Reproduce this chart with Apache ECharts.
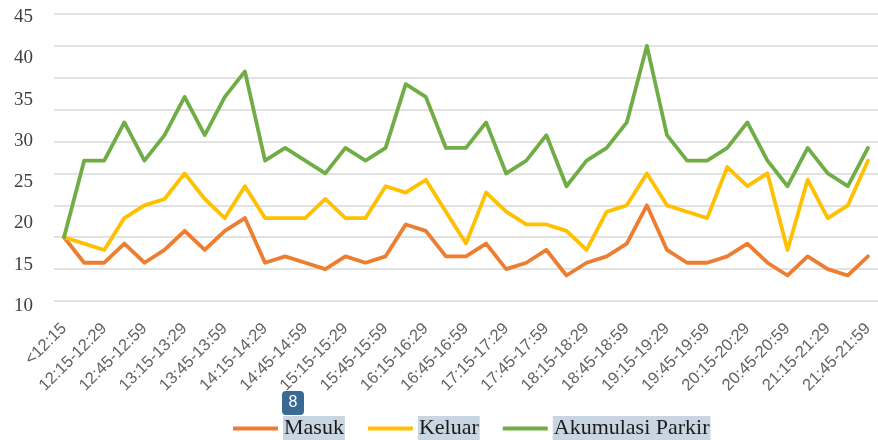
<!DOCTYPE html>
<html>
<head>
<meta charset="utf-8">
<script src="https://cdn.jsdelivr.net/npm/echarts@6/dist/echarts.min.js"></script>
<style>
  html, body { margin: 0; padding: 0; background: #fff; }
  #chart { width: 878px; height: 440px; }
</style>
</head>
<body>
<div id="chart"></div>
<script>
var categories = ['<12:15', '12:00-12:14', '12:15-12:29', '12:30-12:44', '12:45-12:59', '13:00-13:14',
  '13:15-13:29', '13:30-13:44', '13:45-13:59', '14:00-14:14', '14:15-14:29', '14:30-14:44',
  '14:45-14:59', '15:00-15:14', '15:15-15:29', '15:30-15:44', '15:45-15:59', '16:00-16:14',
  '16:15-16:29', '16:30-16:44', '16:45-16:59', '17:00-17:14', '17:15-17:29', '17:30-17:44',
  '17:45-17:59', '18:00-18:14', '18:15-18:29', '18:30-18:44', '18:45-18:59', '19:00-19:14',
  '19:15-19:29', '19:30-19:44', '19:45-19:59', '20:00-20:14', '20:15-20:29', '20:30-20:44',
  '20:45-20:59', '21:00-21:14', '21:15-21:29', '21:30-21:44', '21:45-21:59'];

// values read against the gridlines (10 lines, 5 units apart)
var masuk = [10, 6, 6, 9, 6, 8, 11, 8, 11, 13, 6, 7, 6, 5, 7, 6, 7, 12, 11, 7, 7,
  9, 5, 6, 8, 4, 6, 7, 9, 15, 8, 6, 6, 7, 9, 6, 4, 7, 5, 4, 7];
var keluar = [10, 9, 8, 13, 15, 16, 20, 16, 13, 18, 13, 13, 13, 16, 13, 13, 18, 17, 19, 14, 9,
  17, 14, 12, 12, 11, 8, 14, 15, 20, 15, 14, 13, 21, 18, 20, 8, 19, 13, 15, 22];
var akumulasi = [10, 22, 22, 28, 22, 26, 32, 26, 32, 36, 22, 24, 22, 20, 24, 22, 24, 34, 32, 24, 24,
  28, 20, 22, 26, 18, 22, 24, 28, 40, 26, 22, 22, 24, 28, 22, 18, 24, 20, 18, 24];

// the printed y labels (spread over the plot, not aligned with the gridlines)
var yLabelMin = 10;
var yLabelMax = 45;

var dom = document.getElementById('chart');
var myChart = echarts.init(dom, null, { renderer: 'canvas' });

var lineStyle = function (color) {
  return { width: 3.8, color: color, cap: 'round', join: 'round' };
};

var option = {
  animation: false,
  backgroundColor: '#fff',
  grid: [
    { left: 54, right: -10, top: 14, bottom: 139 },
    { left: 41, width: 1, top: 17, height: 289 }
  ],
  xAxis: [
    {
      type: 'category',
      gridIndex: 0,
      data: categories,
      boundaryGap: true,
      axisLine: { show: false },
      axisTick: { show: false },
      axisLabel: {
        interval: 1,
        rotate: 45,
        margin: 25,
        fontFamily: 'Liberation Sans',
        fontSize: 16.5,
        color: '#636363'
      }
    },
    { type: 'value', gridIndex: 1, show: false }
  ],
  yAxis: [
    {
      type: 'value',
      gridIndex: 0,
      min: 0,
      max: 45,
      interval: 5,
      axisLabel: { show: false },
      axisLine: { show: false },
      axisTick: { show: false },
      splitLine: { lineStyle: { color: '#d9d9d9', width: 1.5 } }
    },
    {
      type: 'value',
      gridIndex: 1,
      min: yLabelMin,
      max: yLabelMax,
      interval: 5,
      axisLine: { show: false },
      axisTick: { show: false },
      splitLine: { show: false },
      axisLabel: {
        margin: 8,
        fontFamily: 'Liberation Serif',
        fontSize: 19,
        color: '#404040'
      }
    }
  ],
  legend: {
    left: 233,
    top: 416,
    padding: 0,
    icon: 'rect',
    itemWidth: 45,
    itemHeight: 4,
    itemGap: 23,
    data: ['Masuk', 'Keluar', 'Akumulasi Parkir'],
    textStyle: {
      fontFamily: 'Liberation Serif',
      fontSize: 22,
      color: '#1a1a1a',
      backgroundColor: '#c9d6e1',
      padding: [2, 1, 1, 1]
    }
  },
  graphic: [
    {
      type: 'group',
      left: 282,
      top: 391,
      children: [
        { type: 'rect', shape: { x: 0, y: 0, width: 22, height: 24, r: 4 }, style: { fill: '#3a6994' } },
        {
          type: 'text', x: 11, y: 12,
          style: { text: '8', fill: '#fff', fontSize: 16, fontFamily: 'Liberation Sans', align: 'center', verticalAlign: 'middle' }
        }
      ]
    }
  ],
  series: [
    { name: 'Masuk', type: 'line', data: masuk, showSymbol: false, color: '#ED7D31', lineStyle: lineStyle('#ED7D31') },
    { name: 'Keluar', type: 'line', data: keluar, showSymbol: false, color: '#FFC000', lineStyle: lineStyle('#FFC000') },
    { name: 'Akumulasi Parkir', type: 'line', data: akumulasi, showSymbol: false, color: '#70AD47', lineStyle: lineStyle('#70AD47') }
  ]
};

myChart.setOption(option);
window.addEventListener('resize', myChart.resize);
</script>
</body>
</html>
